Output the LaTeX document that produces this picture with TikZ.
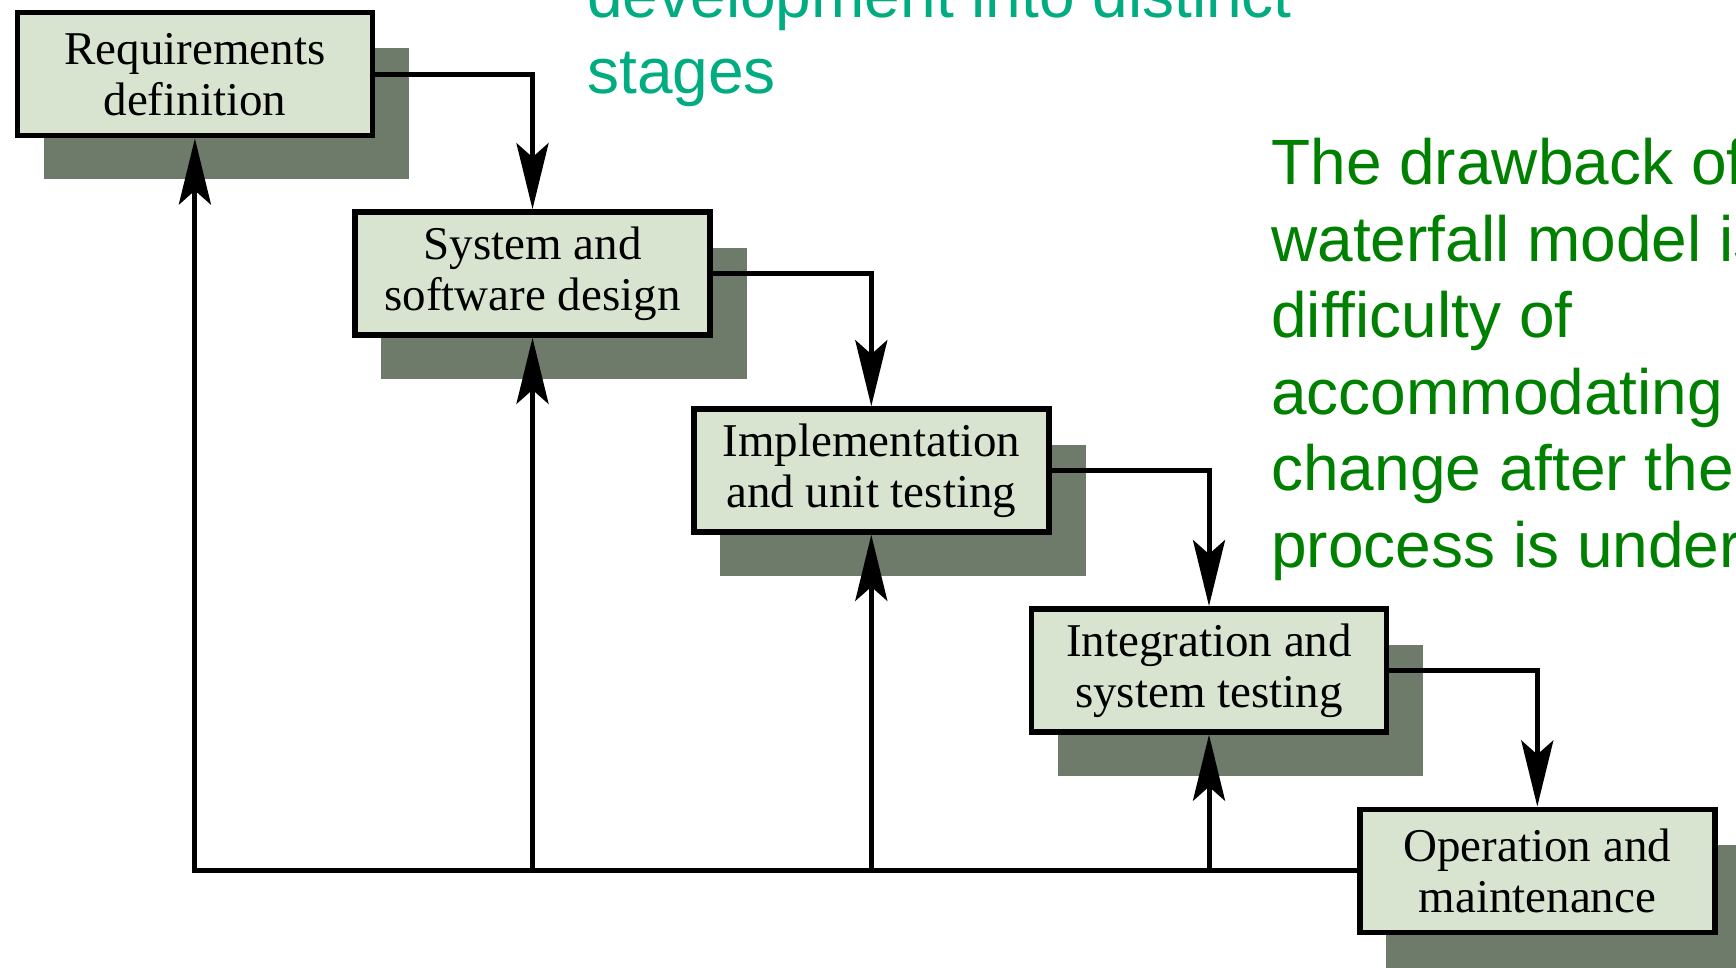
\documentclass[tikz,border=0pt]{standalone}
\usepackage{fontspec}
\setmainfont{Liberation Serif}
\newfontfamily\sansf{Liberation Sans}
\usetikzlibrary{arrows.meta}
\definecolor{boxfill}{RGB}{216,228,208}
\definecolor{shadowc}{RGB}{110,122,106}
\definecolor{notegreen}{RGB}{0,128,0}
\definecolor{noteteal}{RGB}{0,172,128}
\begin{document}
\begin{tikzpicture}[x=0.5pt,y=-0.5pt,
  stagebox/.style={draw=black, line width=2.8pt, fill=boxfill, minimum width=177.5pt,
    minimum height=61.5pt, align=center, inner sep=0pt,
    font=\fontsize{23.5}{25.5}\selectfont},
  shadowbox/.style={fill=shadowc},
  flow/.style={line width=2.5pt, line join=miter, -{Stealth[length=33pt,width=16pt,inset=7pt]}},
  note/.style={anchor=base west, inner sep=0pt, font=\sansf\fontsize{32}{38}\selectfont}]
\useasboundingbox (0,0) rectangle (1736,968);
\clip (0,0) rectangle (1736,968);
% centres
\coordinate (c1) at (194.9,74.2);
\coordinate (c2) at (532.5,273.5);
\coordinate (c3) at (871.3,470.5);
\coordinate (c4) at (1209.0,670.4);
\coordinate (c5) at (1537.3,870.8);
% shadows
\foreach \c in {c1,c2,c3,c4,c5}
  \fill[shadowbox, shift={(\c)}] (-151.3,-25.8) rectangle (214.3,105.3);
% boxes
\node[stagebox] (B1) at (c1) {Requirements\\definition};
\node[stagebox] (B2) at (c2) {System and\\software design};
\node[stagebox] (B3) at (c3) {Implementation\\and unit testing};
\node[stagebox] (B4) at (c4) {Integration and\\system testing};
\node[stagebox] (B5) at (c5) {Operation and\\maintenance};
% forward flow
\draw[flow] (B1.east) -| (B2.north);
\draw[flow] (B2.east) -| (B3.north);
\draw[flow] (B3.east) -| (B4.north);
\draw[flow] (B4.east) -| (B5.north);
% feedback
\coordinate (f1) at (B1.south |- B5.west);
\coordinate (f2) at (B2.south |- B5.west);
\coordinate (f3) at (B3.south |- B5.west);
\coordinate (f4) at (B4.south |- B5.west);
\draw[flow] (B5.west) -- (f1) -- (B1.south);
\draw[flow] (f2) -- (B2.south);
\draw[flow] (f3) -- (B3.south);
\draw[flow] (f4) -- (B4.south);
% notes
\node[note, text=noteteal] (t1) at (587,17.6) {development into distinct};
\node[note, text=noteteal] (t2) at (587,94) {stages};
\node[note, text=notegreen] (g1) at (1271,185) {The drawback of};
\node[note, text=notegreen] (g2) at (1271,261.4) {waterfall model is};
\node[note, text=notegreen] (g3) at (1271,337.8) {difficulty of};
\node[note, text=notegreen] (g4) at (1271,414.2) {accommodating};
\node[note, text=notegreen] (g5) at (1271,490.6) {change after the};
\node[note, text=notegreen] (g6) at (1271,567) {process is under};
\end{tikzpicture}
\end{document}
